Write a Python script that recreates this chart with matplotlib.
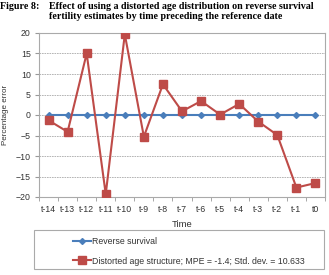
import matplotlib
matplotlib.use("Agg")
import matplotlib.pyplot as plt
from matplotlib.patches import Rectangle
import numpy as np

plt.rcParams['font.family'] = ['Liberation Sans', 'DejaVu Sans']

times = ['t-14', 't-13', 't-12', 't-11', 't-10', 't-9', 't-8', 't-7',
         't-6', 't-5', 't-4', 't-3', 't-2', 't-1', 't0']
reverse_survival = [0, 0, 0, 0, 0, 0, 0, 0, 0, 0, 0, 0, 0, 0, 0]
distorted = [-1.3, -4.1, 15.0, -19.3, 19.7, -5.3, 7.5, 0.9,
             3.4, 0.1, 2.7, -1.6, -4.9, -17.7, -16.6]

fig = plt.figure(figsize=(3.29, 2.75), dpi=100)
ax = fig.add_axes([39/329, 1-197/275, (325-39)/329, (197-33)/275])

x = np.arange(len(times))
ax.plot(x, reverse_survival, color='#4a7ebb', linewidth=1.5, marker='D',
        markersize=3, label='Reverse survival', zorder=3)
ax.plot(x, distorted, color='#be4b48', linewidth=1.5, marker='s',
        markersize=5.5, label='Distorted age structure; MPE = -1.4; Std. dev. = 10.633', zorder=4)

ax.set_xlim(-0.5, len(times) - 0.5)
ax.set_ylim(-20, 20)
ax.set_yticks(np.arange(-20, 21, 5))
ax.set_xticks(x)
ax.set_xticklabels(times)
ax.set_xticks(np.arange(-0.5, len(times), 1), minor=True)
ax.tick_params(axis='x', which='major', length=0, labelsize=6.3, pad=6, colors='#333333')
ax.tick_params(axis='x', which='minor', length=3, color='#999999')
ax.tick_params(axis='y', length=3, labelsize=6.3, color='#999999', labelcolor='#333333', pad=3)
ax.yaxis.grid(True, color='#aaaaaa', linestyle=(0, (2, 1)), linewidth=0.6)
for s in ax.spines.values():
    s.set_color('#aaaaaa')
    s.set_linewidth(0.8)

ax.set_xlabel('Time', fontsize=6.8, color='#333333', labelpad=4)
ax.set_ylabel('Percentage error', fontsize=5.8, color='#333333', labelpad=5)

fig.patches.append(Rectangle((34/329, 1-269/275), 290/329, 39/275, transform=fig.transFigure,
                             facecolor='none', edgecolor='#aaaaaa', linewidth=0.8))
leg = fig.legend(loc='upper left', bbox_to_anchor=(66/329, 1-230/275), fontsize=6.3,
                 frameon=False, handlelength=2.1, handletextpad=0.1,
                 labelspacing=1.2, borderpad=0.3)
for t in leg.get_texts():
    t.set_color('#333333')

fig.text(0.0, 1-9/275, 'Figure 8:', fontsize=7.2, fontweight='bold',
         family='Liberation Serif', va='baseline')
fig.text(49/329, 1-9/275, 'Effect of using a distorted age distribution on reverse survival',
         fontsize=7.2, fontweight='bold', family='Liberation Serif', va='baseline')
fig.text(49/329, 1-19/275, 'fertility estimates by time preceding the reference date',
         fontsize=7.2, fontweight='bold', family='Liberation Serif', va='baseline')

fig.savefig('out.png', dpi=100)
